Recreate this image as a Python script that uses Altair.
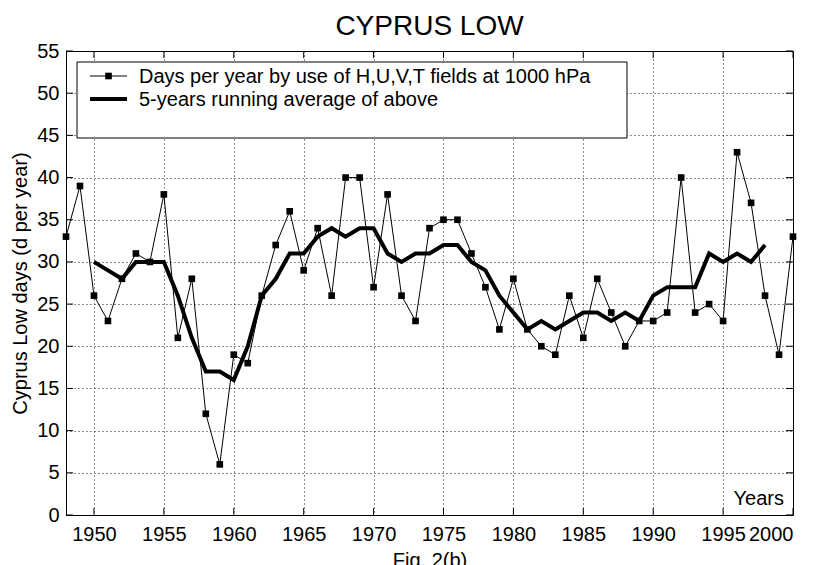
import altair as alt
import pandas as pd

years = list(range(1948, 2001))
days = [33, 39, 26, 23, 28, 31, 30, 38, 21, 28, 12, 6, 19, 18, 26, 32, 36, 29, 34, 26,
        40, 40, 27, 38, 26, 23, 34, 35, 35, 31, 27, 22, 28, 22, 20, 19, 26, 21, 28, 24,
        20, 23, 23, 24, 40, 24, 25, 23, 43, 37, 26, 19, 33]
avg_years = list(range(1950, 1999))
avg = [30, 29, 28, 30, 30, 30, 26, 21, 17, 17, 16, 20, 26, 28, 31, 31, 33, 34, 33, 34,
       34, 31, 30, 31, 31, 32, 32, 30, 29, 26, 24, 22, 23, 22, 23, 24, 24, 23, 24, 23,
       26, 27, 27, 27, 31, 30, 31, 30, 32]
x_ticks = list(range(1950, 2001, 5))
y_ticks = list(range(0, 56, 5))
legend_labels = ["Days per year by use of H,U,V,T fields at 1000 hPa",
                 "5-years running average of above"]

W, H = 727, 464
FONT = "Liberation Sans"
FS = 20

df = pd.DataFrame({"year": years, "days": days})
dfa = pd.DataFrame({"year": avg_years, "avg": avg})

xs = alt.Scale(domain=[1948, 2000], nice=False, zero=False)
ys = alt.Scale(domain=[0, 55], nice=False)

xaxis = alt.Axis(values=x_ticks, format="d", grid=True, gridDash=[1, 3], gridColor="#000",
                 gridOpacity=0.9, ticks=False, labelPadding=9, domain=False,
                 labelFontSize=FS, labelFont=FONT, labelColor="#000",
                 title="Fig. 2(b)", titleFontSize=FS, titleFont=FONT, titleFontWeight="normal",
                 titlePadding=6, titleColor="#000")
yaxis = alt.Axis(values=y_ticks, grid=True, gridDash=[1, 3], gridColor="#000",
                 gridOpacity=0.9, ticks=False, labelPadding=7, domain=False,
                 labelFontSize=FS, labelFont=FONT, labelColor="#000",
                 title="Cyprus Low days (d per year)", titleFontSize=FS, titleFont=FONT,
                 titleFontWeight="normal", titlePadding=6, titleColor="#000")

base_line = alt.Chart(df).mark_line(color="#000", strokeWidth=1).encode(
    x=alt.X("year:Q", scale=xs, axis=xaxis),
    y=alt.Y("days:Q", scale=ys, axis=yaxis),
)
pts = alt.Chart(df).mark_square(color="#000", size=44, opacity=1).encode(
    x=alt.X("year:Q", scale=xs),
    y=alt.Y("days:Q", scale=ys),
)
avg_line = alt.Chart(dfa).mark_line(color="#000", strokeWidth=4).encode(
    x=alt.X("year:Q", scale=xs),
    y=alt.Y("avg:Q", scale=ys),
)

# inward ticks (MATLAB style)
xt = pd.DataFrame({"t": x_ticks})
yt = pd.DataFrame({"t": y_ticks})
xt_bot = alt.Chart(xt).mark_rule(color="#000").encode(
    x=alt.X("t:Q", scale=xs), y=alt.value(H), y2=alt.value(H - 7))
xt_top = alt.Chart(xt).mark_rule(color="#000").encode(
    x=alt.X("t:Q", scale=xs), y=alt.value(0), y2=alt.value(7))
yt_l = alt.Chart(yt).mark_rule(color="#000").encode(
    y=alt.Y("t:Q", scale=ys), x=alt.value(0), x2=alt.value(7))
yt_r = alt.Chart(yt).mark_rule(color="#000").encode(
    y=alt.Y("t:Q", scale=ys), x=alt.value(W), x2=alt.value(W - 7))

one = pd.DataFrame({"a": [0]})
# legend box
leg_box = alt.Chart(one).mark_rect(fill="white", stroke="#000", strokeWidth=1).encode(
    x=alt.value(11), x2=alt.value(561), y=alt.value(11), y2=alt.value(87))
leg_l1 = alt.Chart(one).mark_rule(color="#000", strokeWidth=1).encode(
    x=alt.value(24), x2=alt.value(61), y=alt.value(25))
leg_p1 = alt.Chart(one).mark_square(color="#000", size=44, opacity=1).encode(
    x=alt.value(42.5), y=alt.value(25))
leg_l2 = alt.Chart(one).mark_rule(color="#000", strokeWidth=4).encode(
    x=alt.value(24), x2=alt.value(61), y=alt.value(48))
leg_t1 = alt.Chart(pd.DataFrame({"label": [legend_labels[0]]})).mark_text(
    align="left", baseline="alphabetic", fontSize=FS, font=FONT, color="#000").encode(
    x=alt.value(73), y=alt.value(32), text="label:N")
leg_t2 = alt.Chart(pd.DataFrame({"label": [legend_labels[1]]})).mark_text(
    align="left", baseline="alphabetic", fontSize=FS, font=FONT, color="#000").encode(
    x=alt.value(73), y=alt.value(55), text="label:N")

years_txt = alt.Chart(pd.DataFrame({"label": ["Years"]})).mark_text(
    align="right", baseline="alphabetic", fontSize=FS, font=FONT, color="#000").encode(
    x=alt.value(718), y=alt.value(454), text="label:N")

chart = alt.layer(
    base_line, avg_line, pts, xt_bot, xt_top, yt_l, yt_r,
    leg_box, leg_l1, leg_p1, leg_l2, leg_t1, leg_t2, years_txt
).properties(
    width=W, height=H,
    title=alt.TitleParams("CYPRUS LOW", fontSize=28, font=FONT, fontWeight="normal",
                          color="#000", anchor="middle", offset=0),
    autosize=alt.AutoSizeParams(type="none"),
    padding={"left": 58, "top": 43, "right": 18, "bottom": 50},
    background="white",
).configure_view(stroke="#000", strokeWidth=1)

chart.save("out.html", embed_options={"renderer": "svg", "actions": False})
